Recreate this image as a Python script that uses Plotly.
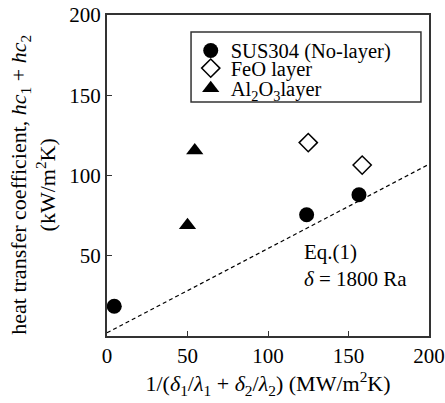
import plotly.graph_objects as go

# Data
series_names = ["SUS304 (No-layer)", "FeO layer", "Al<sub>2</sub>O<sub>3</sub>layer"]
sus_x = [4.5, 124, 156.5]
sus_y = [18.5, 75.5, 88]
feo_x = [125, 158.5]
feo_y = [120.5, 106.5]
al_x = [50, 54.5]
al_y = [69, 115.5]
eq_x = [0, 200]
eq_y = [2, 107]

FONT = "Liberation Serif, Times New Roman, serif"

fig = go.Figure()
fig.add_trace(go.Scatter(x=eq_x, y=eq_y, mode="lines", showlegend=False,
                         line=dict(color="black", width=1.2, dash="4px,3px")))
fig.add_trace(go.Scatter(x=sus_x, y=sus_y, mode="markers", name=series_names[0],
                         legend="legend",
                         marker=dict(symbol="circle", size=15, color="black")))
fig.add_trace(go.Scatter(x=feo_x, y=feo_y, mode="markers", name=series_names[1],
                         legend="legend2",
                         marker=dict(symbol="diamond-open", size=14, color="black",
                                     line=dict(width=1.5, color="black"))))
fig.add_trace(go.Scatter(x=al_x, y=al_y, mode="markers", name=series_names[2],
                         legend="legend3",
                         marker=dict(symbol="triangle-up", size=15, color="black")))

fig.add_annotation(x=121, y=44, xref="x", yref="y", xanchor="left", yanchor="middle",
                   align="left", showarrow=False,
                   text="Eq.(1)<br><i>δ</i> = 1800 Ra",
                   font=dict(family=FONT, size=21, color="black"))

fig.add_annotation(x=-0.228, y=0.47, xref="paper", yref="paper", xanchor="center",
                   yanchor="middle", showarrow=False, textangle=-90,
                   text="heat transfer coefficient, <i>hc</i><sub>1</sub> + <i>hc</i><sub>2</sub><br>(kW/m<sup>2</sup>K)",
                   font=dict(family=FONT, size=22, color="black"))

# legend frame
fig.add_shape(type="rect", xref="paper", yref="paper", x0=0.261, x1=0.975, y0=0.729, y1=0.947,
              line=dict(color="#333", width=1.5), fillcolor="white", layer="below")

leg_common = dict(x=0.26, xanchor="left", yanchor="middle", bgcolor="rgba(0,0,0,0)",
                  borderwidth=0, font=dict(family=FONT, size=20.5, color="black"),
                  itemwidth=30)

fig.update_layout(
    width=445, height=403,
    margin=dict(l=107, r=16, t=15, b=67, autoexpand=False),
    paper_bgcolor="white", plot_bgcolor="rgba(0,0,0,0)",
    font=dict(family=FONT, size=21, color="black"),
    showlegend=True,
    legend=dict(y=0.889, **leg_common),
    legend2=dict(y=0.834, **leg_common),
    legend3=dict(y=0.771, **leg_common),
    xaxis=dict(range=[0, 200], tickvals=[0, 50, 100, 150, 200],
               ticks="inside", ticklen=5, tickcolor="#333", automargin=False,
               tickfont=dict(family=FONT, size=21, color="black"),
               showline=True, linecolor="#333", linewidth=2, mirror=True,
               showgrid=False, zeroline=False,
               title=dict(text="1/(<i>δ</i><sub>1</sub>/<i>λ</i><sub>1</sub> + <i>δ</i><sub>2</sub>/<i>λ</i><sub>2</sub>) (MW/m<sup>2</sup>K)",
                          font=dict(family=FONT, size=22, color="black"), standoff=8)),
    yaxis=dict(range=[0, 200], tickvals=[50, 100, 150, 200],
               ticks="inside", ticklen=5, tickcolor="#333", automargin=False,
               tickfont=dict(family=FONT, size=21, color="black"),
               showline=True, linecolor="#333", linewidth=2, mirror=True,
               showgrid=False, zeroline=False),
)

fig.write_html("out.html", config={"displayModeBar": False},
               post_script="document.body.style.margin='0';document.body.style.overflow='hidden';")
